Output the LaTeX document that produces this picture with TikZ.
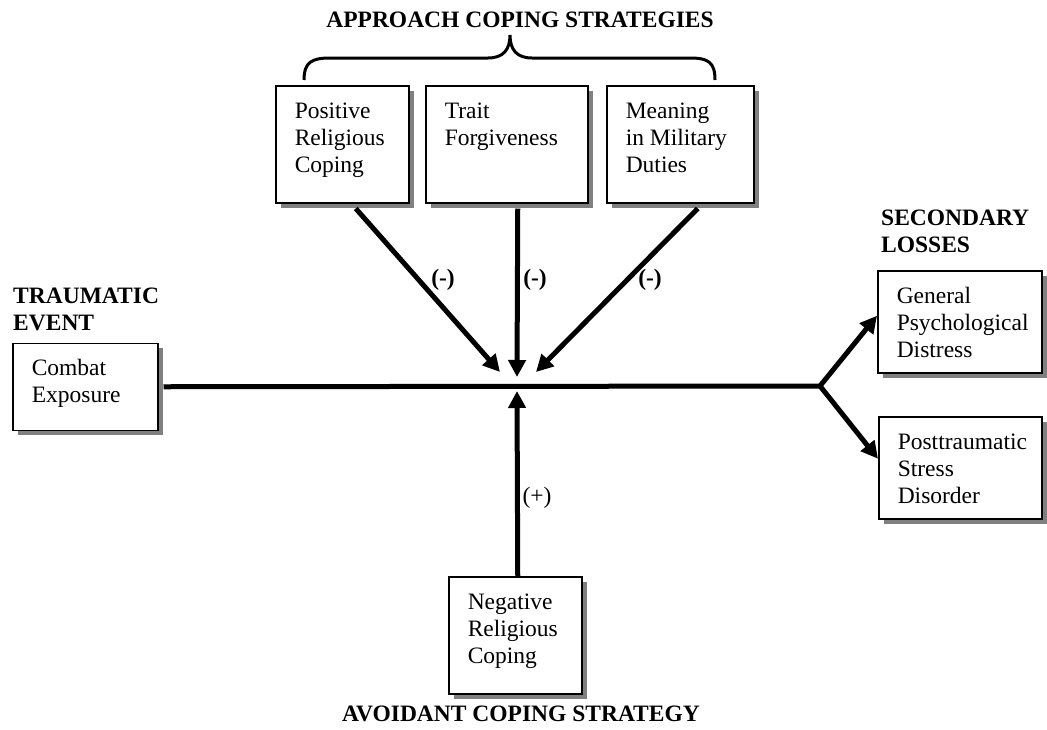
\documentclass[tikz,border=0pt]{standalone}
\usepackage{fontspec}
\setmainfont{Liberation Serif}
\usetikzlibrary{arrows.meta,shadows}
\definecolor{shadowgray}{RGB}{128,128,128}
\newcommand{\boxlines}[3]{\parbox[t][#2][t]{#1}{\vspace*{13.5pt}\hspace*{19pt}\begin{tabular}[t]{@{}l@{}}#3\end{tabular}}}

\begin{document}
\begin{tikzpicture}[x=1pt,y=-1pt,
  every node/.style={font=\fontsize{23.5}{27}\selectfont},
  bigtri/.tip={Triangle[length=17pt,width=17pt]},
  box/.style={draw,line width=1.5pt,fill=white,inner sep=0pt,anchor=north west,
    drop shadow={shadow xshift=5pt,shadow yshift=-5pt,fill=shadowgray,opacity=1}},
  head/.style={font=\fontsize{23.5}{27}\selectfont\bfseries,inner sep=0pt,align=left},
  sign/.style={inner sep=0pt},
  arr/.style={line width=5pt,-bigtri}]
\useasboundingbox (0,0) rectangle (1047,729);

% boxes
\node[box] (prc) at (275,85) {\boxlines{133pt}{117pt}{Positive\\Religious\\Coping}};
\node[box] (tf) at (425,85) {\boxlines{162pt}{117pt}{Trait\\Forgiveness}};
\node[box] (mmd) at (606,85) {\boxlines{147pt}{117pt}{Meaning\\in Military\\Duties}};
\node[box] (ce) at (12,342.5) {\boxlines{145pt}{87pt}{Combat\\Exposure}};
\node[box] (gpd) at (877,270) {\boxlines{164pt}{102pt}{General\\Psychological\\Distress}};
\node[box] (ptsd) at (878,416) {\boxlines{163pt}{102pt}{Posttraumatic\\Stress\\Disorder}};
\node[box] (nrc) at (448,576) {\boxlines{133pt}{117pt}{Negative\\Religious\\Coping}};

% headings
\node[head,anchor=base] (approach) at (520,27) {APPROACH COPING STRATEGIES};
\node[head,anchor=north west] (traumatic) at (13,288) {TRAUMATIC\\EVENT};
\node[head,anchor=north west] (secondary) at (881,210) {SECONDARY\\LOSSES};
\node[head,anchor=base] (avoidant) at (521,721) {AVOIDANT COPING STRATEGY};

% brace
\draw[line width=3pt] (304,80) .. controls (304,62) and (312,58) .. (330,58) -- (488,58)
  .. controls (503,58) and (510,50) .. (510,35) .. controls (510,50) and (517,58) .. (532,58)
  -- (690,58) .. controls (708,58) and (715,62) .. (715,80);

% meeting points
\coordinate (fork) at (820,386);
\coordinate (tipl) at (500,372);
\coordinate (tipm) at (517,377);
\coordinate (tipr) at (536,372);
\coordinate (tipb) at (517,391);

\draw[line width=5pt] ([xshift=5pt]ce.east) -- (fork);
\draw[line width=5pt,bigtri-bigtri] ([yshift=6pt]gpd.west) -- (fork) -- ([yshift=9pt]ptsd.west);

\draw[arr] ([xshift=13.5pt,yshift=-5pt]prc.south) -- (tipl);
\draw[arr] ([xshift=11pt,yshift=-5pt]tf.south) -- (tipm);
\draw[arr] ([xshift=17.5pt,yshift=-5pt]mmd.south) -- (tipr);
\draw[arr] ([xshift=2.5pt]nrc.north) -- (tipb);

% signs
\node[sign,font=\fontsize{23.5}{27}\selectfont\bfseries] (negl) at (443,280) {(-)};
\node[sign,font=\fontsize{23.5}{27}\selectfont\bfseries] (negm) at (535,280) {(-)};
\node[sign,font=\fontsize{23.5}{27}\selectfont\bfseries] (negr) at (650,280) {(-)};
\node[sign] (posb) at (537,498) {(+)};
\end{tikzpicture}
\end{document}
